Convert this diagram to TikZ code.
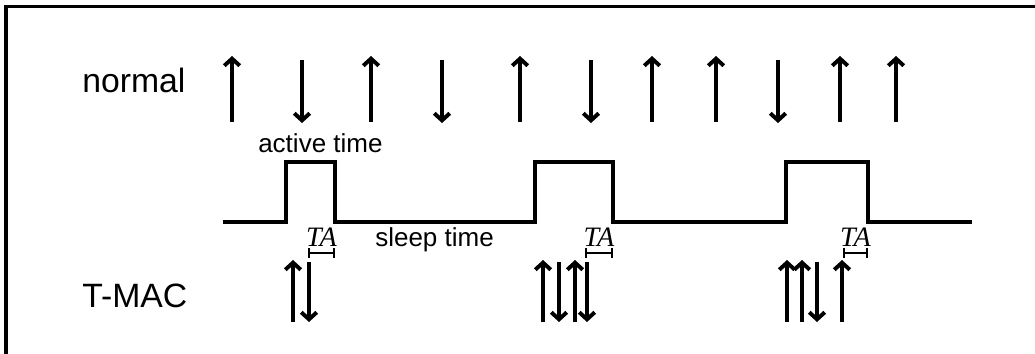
\documentclass[tikz,border=0pt]{standalone}
\usepackage{fontspec}
\setmainfont{Liberation Sans}
\newfontfamily\tafont{Liberation Serif}
\usetikzlibrary{arrows.meta,calc}

\begin{document}
\begin{tikzpicture}[
    x=0.25mm, y=-0.25mm,
    >={Straight Barb[length=5pt, width=11pt]},
    sig/.style={line width=2.8pt},
    wave/.style={line width=2.4pt, line join=miter},
    rowlabel/.style={font=\fontsize{24}{28}\selectfont, inner sep=0pt, anchor=base west},
    timelabel/.style={font=\fontsize{18.5}{22}\selectfont, inner sep=0pt, anchor=base west},
    talabel/.style={font=\tafont\itshape\fontsize{20}{24}\selectfont, inner sep=0pt, anchor=base}
]

\useasboundingbox (0,0) rectangle (1035,354);
\clip (0,0) rectangle (1035,354);

% Frame
\draw[line width=2.4pt] (6,360) -- (6,6.5) -- (1040,6.5);

% Row labels
\node[rowlabel] (normal) at (82,93) {normal};
\node[rowlabel] (tmac) at (82,307) {T-MAC};

% Normal traffic
\foreach \x in {232,371,520,652,716,840,896}
    \draw[sig, ->] (\x,122) -- (\x,56);
\foreach \x in {302,442,591,778}
    \draw[sig, ->] (\x,60) -- (\x,123);

% Levels of the duty cycle
\def\lo{222}
\def\hi{162}

% Falling edges (end of each active period)
\coordinate (F1) at (335,\lo);
\coordinate (F2) at (613,\lo);
\coordinate (F3) at (868,\lo);

% Duty cycle waveform
\draw[wave] (223,\lo) -- (286,\lo) -- (286,\hi) -- (F1 |- 0,\hi) -- (F1)
    -- (535,\lo) -- (535,\hi) -- (F2 |- 0,\hi) -- (F2)
    -- (786,\lo) -- (786,\hi) -- (F3 |- 0,\hi) -- (F3) -- (972,\lo);

\node[timelabel] (active) at (258,153) {active time};
\node[timelabel] (sleep) at (375,246) {sleep time};

% TA intervals
\foreach \f/\w [count=\i] in {F1/27,F2/28,F3/25} {
    \draw[line width=1.1pt, {Bar[width=7pt]}-{Bar[width=7pt]}]
        ($(\f)+(-\w,31)$) -- ($(\f)+(0,31)$);
    \node[talabel] (ta\i) at ($(\f)+(-\w/2,24)$) {TA};
}

% T-MAC traffic
\foreach \x in {293,543,575,787,802,842}
    \draw[sig, ->] (\x,322) -- (\x,260);
\foreach \x in {309,559,587,817}
    \draw[sig, ->] (\x,262) -- (\x,322);

\end{tikzpicture}
\end{document}
